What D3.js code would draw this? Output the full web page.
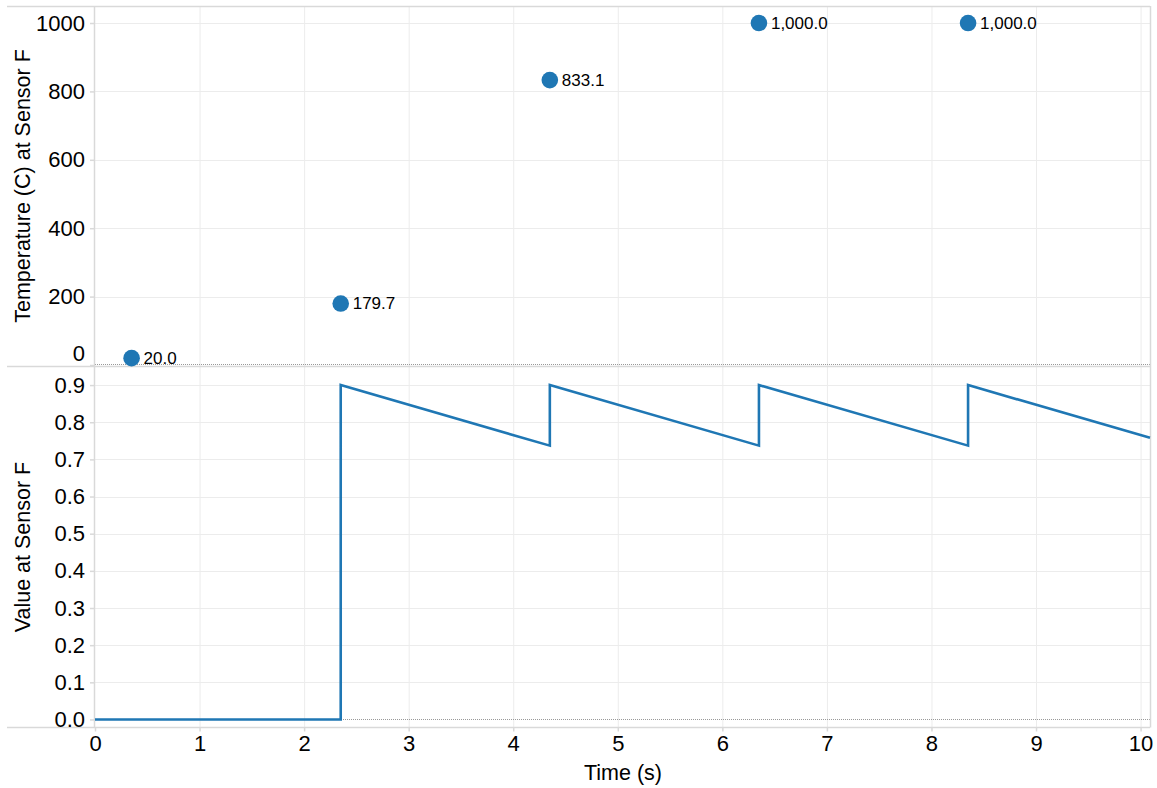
<!DOCTYPE html>
<html><head><meta charset="utf-8">
<script src="https://cdn.jsdelivr.net/npm/d3@7"></script>
<style>body{margin:0;background:#fff;font-family:"Liberation Sans",Arial,sans-serif}</style>
</head><body><svg id="c" width="1157" height="788"></svg>
<script>
// Data
const dotTimes = [0.35, 2.35, 4.35, 6.35, 8.35];
const dotTemps = [20.0, 179.7, 833.1, 1000.0, 1000.0];
const lineTimes = [0, 2.35, 2.35, 4.35, 4.35, 6.35, 6.35, 8.35, 8.35, 10.09];
const lineValues = [0, 0, 0.9, 0.737, 0.9, 0.737, 0.9, 0.737, 0.9, 0.758];
const xTicks = [0,1,2,3,4,5,6,7,8,9,10];
const topTicks = [0,200,400,600,800,1000];
const botTicks = [0,0.1,0.2,0.3,0.4,0.5,0.6,0.7,0.8,0.9];

const svg = d3.select("#c");
const L = 95, R = 1150;
const topT = 6, topB = 366, botT = 366.5, botB = 727.5;
const blue = "#1f77b4", grid = "#ececec", border = "#d9d9d9";

const x = d3.scaleLinear().domain([0, 10.09]).range([L, R]);
const yT = d3.scaleLinear().domain([0, 1048]).range([365, 6.6]);
const yB = d3.scaleLinear().domain([-0.0216, 0.950]).range([botB, botT]);

// gridlines
const g = svg.append("g");
[[topT, topB],[botT, botB]].forEach(([a,b]) => {
  g.selectAll(null).data(xTicks.filter(d=>d>0)).enter().append("line")
    .attr("x1", d=>x(d)+0.5).attr("x2", d=>x(d)+0.5).attr("y1", a).attr("y2", b)
    .attr("stroke", grid).attr("stroke-width", 1);
});
g.selectAll(null).data(topTicks.filter(d=>d>0)).enter().append("line")
  .attr("x1", L).attr("x2", R).attr("y1", d=>Math.round(yT(d))+0.5).attr("y2", d=>Math.round(yT(d))+0.5)
  .attr("stroke", grid);
g.selectAll(null).data(botTicks.filter(d=>d>0)).enter().append("line")
  .attr("x1", L).attr("x2", R).attr("y1", d=>Math.round(yB(d))+0.5).attr("y2", d=>Math.round(yB(d))+0.5)
  .attr("stroke", grid);

// zero dotted lines
svg.append("line").attr("x1", L).attr("x2", R).attr("y1", Math.round(yT(0))-0.5).attr("y2", Math.round(yT(0))-0.5)
  .attr("stroke", "#999").attr("stroke-dasharray", "1,1");
svg.append("line").attr("x1", L).attr("x2", R).attr("y1", Math.round(yB(0))+0.5).attr("y2", Math.round(yB(0))+0.5)
  .attr("stroke", "#999").attr("stroke-dasharray", "1,1");

// frame lines
svg.append("line").attr("x1", 7).attr("x2", R).attr("y1", topT+0.5).attr("y2", topT+0.5).attr("stroke", border).attr("stroke-width", 1.5);
svg.append("line").attr("x1", 7).attr("x2", R).attr("y1", topB+0.5).attr("y2", topB+0.5).attr("stroke", border).attr("stroke-width", 1.5);
svg.append("line").attr("x1", 7).attr("x2", R).attr("y1", botB).attr("y2", botB).attr("stroke", border).attr("stroke-width", 1.5);
svg.append("line").attr("x1", L-0.5).attr("x2", L-0.5).attr("y1", topT).attr("y2", botB).attr("stroke", border).attr("stroke-width", 1.5);
svg.append("line").attr("x1", R+0.5).attr("x2", R+0.5).attr("y1", topT).attr("y2", botB).attr("stroke", border).attr("stroke-width", 1.5);

// axes
const fs = 22;
const axT = svg.append("g").attr("transform", `translate(${L-1},0)`)
  .call(d3.axisLeft(yT).tickValues(topTicks).tickFormat(d3.format("d")).tickSize(4).tickPadding(5));
const axB = svg.append("g").attr("transform", `translate(${L-1},0)`)
  .call(d3.axisLeft(yB).tickValues(botTicks).tickFormat(d3.format(".1f")).tickSize(4).tickPadding(5));
const axX = svg.append("g").attr("transform", `translate(0,${botB})`)
  .call(d3.axisBottom(x).tickValues(xTicks).tickFormat(d3.format("d")).tickSize(4).tickPadding(4));
[axT, axB, axX].forEach(a => {
  a.select(".domain").remove();
  a.selectAll(".tick line").attr("stroke", border).attr("stroke-width", 1.5);
  a.selectAll("text").attr("font-family", "Liberation Sans, Arial, sans-serif").attr("font-size", fs).attr("fill", "#000");
});
// shift the top "0" label up as Tableau does
axT.selectAll(".tick").filter(d => d === 0).select("text").attr("dy", "-0.2em");

// titles
svg.append("text").attr("transform", `translate(30,${(topT+topB)/2}) rotate(-90)`)
  .attr("text-anchor", "middle").attr("font-size", 21.5).attr("fill", "#000")
  .text("Temperature (C) at Sensor F");
svg.append("text").attr("transform", `translate(30,${(botT+botB)/2}) rotate(-90)`)
  .attr("text-anchor", "middle").attr("font-size", 21.5).attr("fill", "#000")
  .text("Value at Sensor F");
svg.append("text").attr("x", 623).attr("y", 780).attr("text-anchor", "middle")
  .attr("font-size", 21.5).attr("fill", "#000").text("Time (s)");

// line
const pts = lineTimes.map((t,i)=>[t, lineValues[i]]);
svg.append("path").datum(pts)
  .attr("d", d3.line().x(d=>x(d[0])).y(d=>yB(d[1])))
  .attr("fill", "none").attr("stroke", blue).attr("stroke-width", 2.6).attr("stroke-linejoin", "miter");

// dots
const dots = dotTimes.map((t,i)=>({t, v: dotTemps[i]}));
svg.selectAll("circle.dot").data(dots).enter().append("circle")
  .attr("cx", d=>x(d.t)).attr("cy", d=>yT(d.v)).attr("r", 8.3).attr("fill", blue);
svg.selectAll("text.lbl").data(dots).enter().append("text")
  .attr("x", d=>x(d.t)+12).attr("y", d=>yT(d.v)).attr("dy", "0.35em")
  .attr("font-size", 17).attr("fill", "#000")
  .text(d=>d3.format(",.1f")(d.v));
</script></body></html>
